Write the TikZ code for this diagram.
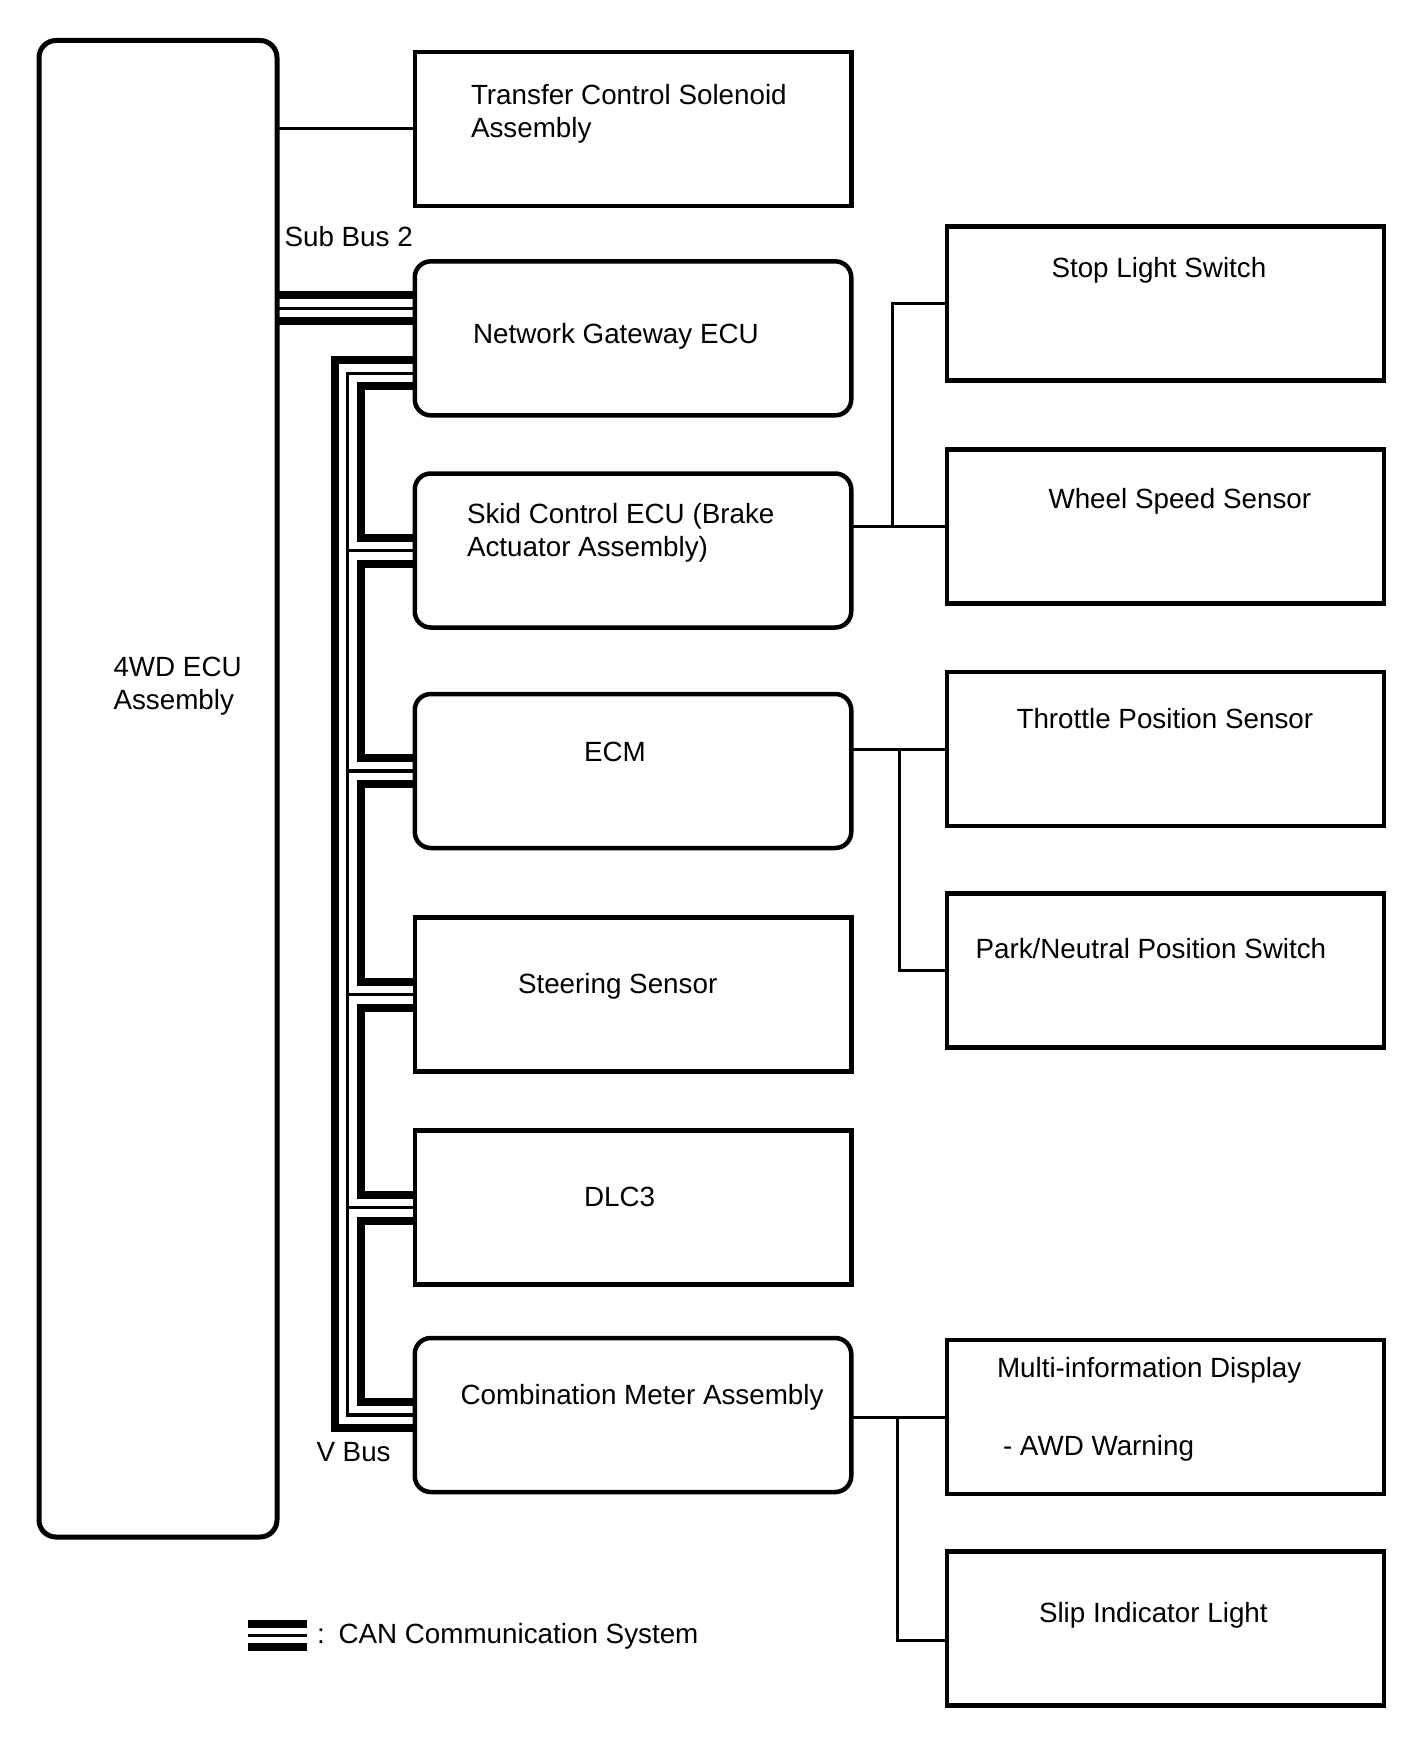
\documentclass[tikz,border=0pt]{standalone}
\usepackage{fontspec}
\setmainfont{Liberation Sans}
\pgfdeclarelayer{bg}
\pgfsetlayers{bg,main}
\begin{document}
\begin{tikzpicture}[x=1pt,y=-1pt,
  every node/.style={font=\fontsize{27.8}{33}\selectfont, inner sep=0pt, outer sep=0pt},
  box/.style={draw, line width=4.5pt, fill=white, minimum width=436.5pt, minimum height=154pt},
  rbox/.style={box, rounded corners=16pt},
  lbl/.style={anchor=base west},
  wire/.style={line width=3pt},
  canlayer/.style 2 args={line width=#1, draw=#2}
]
\useasboundingbox (0,0) rectangle (1421,1760);

% main ECU
\node[rbox, minimum width=238pt, minimum height=1496.5pt, line width=5pt, rounded corners=17pt] (ecu) at (158,788.75) {};

% middle column
\node[box]  (tr)    at (633,129)    {};
\node[rbox] (gw)    at (633,338.35) {};
\node[rbox] (skid)  at (633,550.5)  {};
\node[rbox] (ecm)   at (633,771)    {};
\node[box]  (steer) at (633,994.5)  {};
\node[box]  (dlc)   at (633,1207.5) {};
\node[rbox] (cm)    at (633,1415)   {};

% right column
\node[box, minimum width=437pt] (stop)  at (1165.5,303.35) {};
\node[box, minimum width=437pt] (wheel) at (1165.5,526.4)  {};
\node[box, minimum width=437pt] (thr)   at (1165.5,749)    {};
\node[box, minimum width=437pt] (park)  at (1165.5,970.7)  {};
\node[box, minimum width=437pt] (multi) at (1165.5,1417)   {};
\node[box, minimum width=437pt] (slip)  at (1165.5,1628.5) {};

% texts
\node[lbl] (tEcu1) at (113.5,676) {4WD ECU};
\node[lbl] (tEcu2) at (113.5,709) {Assembly};
\node[lbl] (tTr1) at (471,105) {Transfer Control Solenoid};
\node[lbl] (tTr2) at (471,138) {Assembly};
\node[lbl] (tSub) at (284.5,246.5) {Sub Bus 2};
\node[lbl] (tGw) at (473,343) {Network Gateway ECU};
\node[lbl] (tSk1) at (467,523) {Skid Control ECU (Brake};
\node[lbl] (tSk2) at (467,556.5) {Actuator Assembly)};
\node[lbl] (tEcm) at (584,761) {ECM};
\node[lbl] (tSt) at (518,993) {Steering Sensor};
\node[lbl] (tDlc) at (584,1206) {DLC3};
\node[lbl] (tCm) at (460.5,1404) {Combination Meter Assembly};
\node[lbl] (tV) at (316.5,1461) {V Bus};
\node[lbl] (tStop) at (1051.5,278) {Stop Light Switch};
\node[lbl] (tWh) at (1048.5,508) {Wheel Speed Sensor};
\node[lbl] (tThr) at (1016.5,728) {Throttle Position Sensor};
\node[lbl] (tPk) at (975.5,958.5) {Park/Neutral Position Switch};
\node[lbl] (tMu1) at (997,1377.5) {Multi-information Display};
\node[lbl] (tMu2) at (1003,1455.5) {- AWD Warning};
\node[lbl] (tSl) at (1039,1622) {Slip Indicator Light};
\node[lbl] (tLgC) at (317,1643.5) {:};
\node[lbl] (tLg) at (338.5,1643.5) {CAN Communication System};

% helper coordinates
\coordinate (trunk) at (347.5,0);
\coordinate (j1) at (892,0);
\coordinate (j2) at (899,0);
\coordinate (j3) at (897,0);
\coordinate (sb) at ([yshift=30pt]gw.west);
\coordinate (gv) at ([yshift=-35pt]gw.west);
\coordinate (lg1) at (248,1635.5);
\coordinate (lg2) at (307,1635.5);

\begin{pgfonlayer}{bg}
  % plain wires
  \draw[wire] (ecu.east |- tr.west) -- (tr.west);
  \draw[wire] (skid.east |- wheel.west) -- (wheel.west);
  \draw[wire] (stop.west) -| (j1 |- wheel.west);
  \draw[wire] (ecm.east |- thr.west) -- (thr.west);
  \draw[wire] (park.west) -| (j2 |- thr.west);
  \draw[wire] (cm.east |- multi.west) -- (multi.west);
  \draw[wire] ([yshift=-11.5pt]slip.west) -| (j3 |- multi.west);
  % CAN lines (black, white, thin black)
  \foreach \w/\c in {34pt/black,18pt/white,3.5pt/black}{
    \draw[canlayer={\w}{\c}] (ecu.east |- sb) -- (sb);
    \draw[canlayer={\w}{\c}] (gv) -- (trunk |- gv) -- (trunk |- cm.west) -- (cm.west);
    \draw[canlayer={\w}{\c}] (trunk |- skid.west) -- (skid.west);
    \draw[canlayer={\w}{\c}] (trunk |- ecm.west) -- (ecm.west);
    \draw[canlayer={\w}{\c}] (trunk |- steer.west) -- (steer.west);
    \draw[canlayer={\w}{\c}] (trunk |- dlc.west) -- (dlc.west);
  }
  \foreach \w/\c in {31pt/black,15pt/white,3.3pt/black}{
    \draw[canlayer={\w}{\c}] (lg1) -- (lg2);
  }
\end{pgfonlayer}
\end{tikzpicture}
\end{document}
